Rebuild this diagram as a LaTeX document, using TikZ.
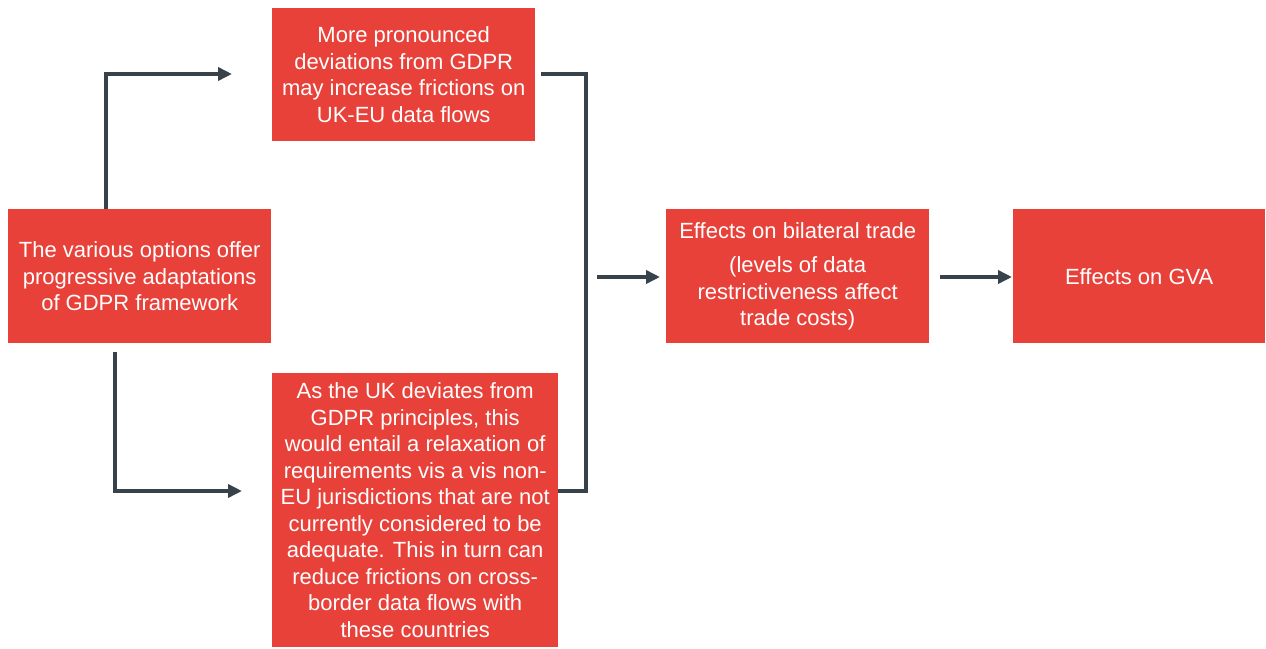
\documentclass[tikz,border=0pt]{standalone}
\usepackage{fontspec}
\setmainfont{Liberation Sans}
\usetikzlibrary{arrows.meta}
\definecolor{boxred}{HTML}{E8413A}
\definecolor{linkgrey}{HTML}{37424A}
\tikzset{
  box/.style={fill=boxred, draw=none, text=white, align=center, inner sep=0pt,
    font=\fontsize{22}{26.5}\selectfont, anchor=north west},
  conn/.style={draw=linkgrey, line width=4pt},
  arr/.style={conn, -{Triangle[length=14pt,width=13pt]}},
}
\begin{document}
\begin{tikzpicture}[x=1pt,y=1pt]
\useasboundingbox (0,0) rectangle (1266,-648);
\fill[white] (0,0) rectangle (1266,-648);

% boxes
\node[box, minimum width=263pt, minimum height=134pt] (opts) at (8,-209)
  {The various options offer\\progressive adaptations\\of GDPR framework};
\node[box, minimum width=263pt, minimum height=133pt] (dev) at (272,-8)
  {More pronounced\\deviations from GDPR\\may increase frictions on\\UK-EU data flows};
\node[box, minimum width=286pt, minimum height=274pt] (relax) at (272,-373)
  {As the UK deviates from\\GDPR principles, this\\would entail a relaxation of\\requirements vis a vis non-\\EU jurisdictions that are not\\currently considered to be\\adequate. This in turn can\\reduce frictions on cross-\\border data flows with\\these countries};
\node[box, minimum width=263pt, minimum height=134pt] (trade) at (666,-209)
  {Effects on bilateral trade\\[8pt](levels of data\\restrictiveness affect\\trade costs)};
\node[box, minimum width=252pt, minimum height=134pt] (gva) at (1013,-209)
  {Effects on GVA};

% connector points
\coordinate (upTip) at (232,-74);
\coordinate (downTip) at (242,-491);
\coordinate (joinTop) at (586,-74);
\coordinate (joinBot) at (586,-491);
\coordinate (joinMid) at (597,-277);

% branching from the options box
\draw[arr] ([xshift=-33.5pt]opts.north) |- (upTip);
\draw[arr] ([xshift=-24.5pt,yshift=-9pt]opts.south) |- (downTip);

% merging the two outcomes
\draw[conn] ([xshift=6pt]dev.east |- joinTop) -- (joinTop) -- (joinBot) -- (relax.east |- joinBot);

% onward chain
\draw[arr, shorten >=6pt] (joinMid) -- (trade.west |- joinMid);
\draw[arr, shorten >=1pt] ([xshift=11pt]trade.east |- joinMid) -- (gva.west |- joinMid);
\end{tikzpicture}
\end{document}
